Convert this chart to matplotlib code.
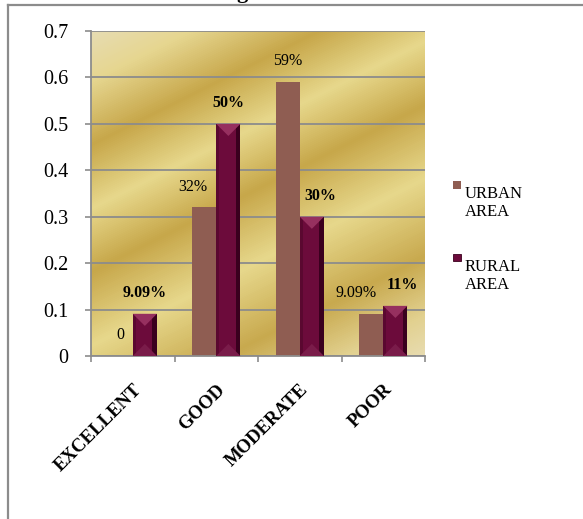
import numpy as np
import matplotlib
matplotlib.use("Agg")
import matplotlib.pyplot as plt
from matplotlib.colors import LinearSegmentedColormap
from matplotlib.patches import Rectangle, Polygon, Patch
from matplotlib.lines import Line2D
from matplotlib.legend_handler import HandlerPatch

plt.rcParams['font.family'] = ['Liberation Serif', 'DejaVu Serif']

# data
categories = ['EXCELLENT', 'GOOD', 'MODERATE', 'POOR']
urban = [0.0, 0.32, 0.59, 0.0909]
rural = [0.0909, 0.50, 0.30, 0.108]
urban_labels = ['0', '32%', '59%', '9.09%']
rural_labels = ['9.09%', '50%', '30%', '11%']
series_names = ['URBAN\nAREA', 'RURAL\nAREA']
yticks = [0, 0.1, 0.2, 0.3, 0.4, 0.5, 0.6, 0.7]

# style
urban_color = '#8f5d52'
rural_color = '#6c0b3b'
grid_color = '#8c8c8c'
bar_w = 0.29
urban_dx = [0, -8, 0, -11]   # label nudges in points
rural_dx = [0, 0, 6, 5]

W, H = 583, 519
fig = plt.figure(figsize=(W / 100, H / 100), dpi=100)
ax = fig.add_axes([91 / W, 1 - 356 / H, 334 / W, 325 / H])
ymax = 0.7

# gold gradient background
px_w, px_h = 334, 325
X, Y = np.meshgrid(np.arange(px_w), np.arange(px_h))
t = (0.5 * X + Y) / (0.5 * px_w + px_h)
gold = LinearSegmentedColormap.from_list('gold', [
    (0.0, '#e6dcb2'), (0.10, '#e6d690'), (0.23, '#c7a74a'), (0.36, '#e7d88c'),
    (0.49, '#c7a74a'), (0.64, '#e7d88c'), (0.80, '#c8a94e'), (0.92, '#e2d190'),
    (1.0, '#e8dcb0')])
ax.imshow(t, cmap=gold, extent=(-0.5, 3.5, 0, ymax), aspect='auto',
          origin='upper', zorder=0, interpolation='bilinear')
ax.set_xlim(-0.5, 3.5)
ax.set_ylim(0, ymax)

x = np.arange(len(categories))
ax.bar(x - bar_w / 2, urban, bar_w, color=urban_color, zorder=2)
ax.bar(x + bar_w / 2, rural, bar_w, color=rural_color, zorder=2)

# bevel on the rural bars, derived from bar geometry
dx_per_px = 4 / px_w
dy_per_px = ymax / px_h
d = (bar_w / 2) / dx_per_px * dy_per_px
e = 3 * dx_per_px
for xi, h in zip(x, rural):
    x0, x1, xc = xi, xi + bar_w, xi + bar_w / 2
    ax.add_patch(Rectangle((x0, 0), e, h, color='#5a0830', zorder=3, lw=0))
    ax.add_patch(Rectangle((x1 - 1.5 * e, 0), 1.5 * e, h, color='#3a001e', zorder=3, lw=0))
    dd = min(d, h / 2)
    ax.add_patch(Polygon([(x0, h), (x1, h), (xc, h - dd)], closed=True,
                         color='#96305f', zorder=4, lw=0))
    ax.add_patch(Polygon([(x0, 0), (x1, 0), (xc, dd)], closed=True,
                         color='#7a1c4a', zorder=4, lw=0))

# data labels
for xi, v, lab, dx in zip(x, urban, urban_labels, urban_dx):
    ax.annotate(lab, (xi - bar_w / 2, v), xytext=(dx, 15), textcoords='offset points',
                ha='center', va='center', fontsize=11.5, zorder=5)
for xi, v, lab, dx in zip(x, rural, rural_labels, rural_dx):
    ax.annotate(lab, (xi + bar_w / 2, v), xytext=(dx, 15), textcoords='offset points',
                ha='center', va='center', fontsize=11.5, fontweight='bold', zorder=5)

# axes, grid, ticks
ax.set_axisbelow(True)
ax.set_yticks(yticks)
ax.set_yticklabels([f'{v:g}' for v in yticks], fontsize=14.5)
ax.yaxis.grid(True, color=grid_color, lw=1.3)
ax.tick_params(axis='y', direction='out', length=4.5, width=1.2, color=grid_color, pad=12)
ax.set_xticks(x)
ax.set_xticklabels(categories, rotation=45, ha='right', rotation_mode='anchor',
                   fontsize=13.5, fontweight='bold')
ax.tick_params(axis='x', which='major', length=0, pad=18)
ax.set_xticks([-0.5, 0.5, 1.5, 2.5, 3.5], minor=True)
ax.tick_params(axis='x', which='minor', direction='out', length=4.5, width=1.2, color=grid_color)
for s in ['top', 'right']:
    ax.spines[s].set_visible(False)
for s in ['left', 'bottom']:
    ax.spines[s].set_color(grid_color)
    ax.spines[s].set_linewidth(1.3)


# legend with the square next to the first line of each label
def top_square(legend, orig_handle, xdescent, ydescent, width, height, fontsize):
    s = 5.5
    return Rectangle((-xdescent, 1.2 * fontsize + 0.5), s, s)


handles = [Patch(facecolor=urban_color, edgecolor='none'),
           Patch(facecolor=rural_color, edgecolor='#3a001e', lw=0.6)]
fig.legend(handles, series_names, loc='upper left',
           bbox_to_anchor=(453 / W, 1 - 186 / H), frameon=False,
           prop={'size': 12}, handlelength=0.45, handleheight=0.7,
           handletextpad=0.25, borderpad=0, borderaxespad=0, labelspacing=2.3,
           handler_map={Patch: HandlerPatch(patch_func=top_square)})

# outer frame (top and left edges visible) and the clipped title as in the source
fig.add_artist(Line2D([8 / W, 1], [1 - 5 / H, 1 - 5 / H], color=grid_color, lw=1.6))
fig.add_artist(Line2D([8 / W, 8 / W], [0, 1 - 5 / H], color=grid_color, lw=1.6))
fig.text(242 / W, 1 + 2 / H, 'g', fontsize=16, fontweight='bold',
         ha='center', va='baseline')

fig.savefig('out.png', dpi=100)
